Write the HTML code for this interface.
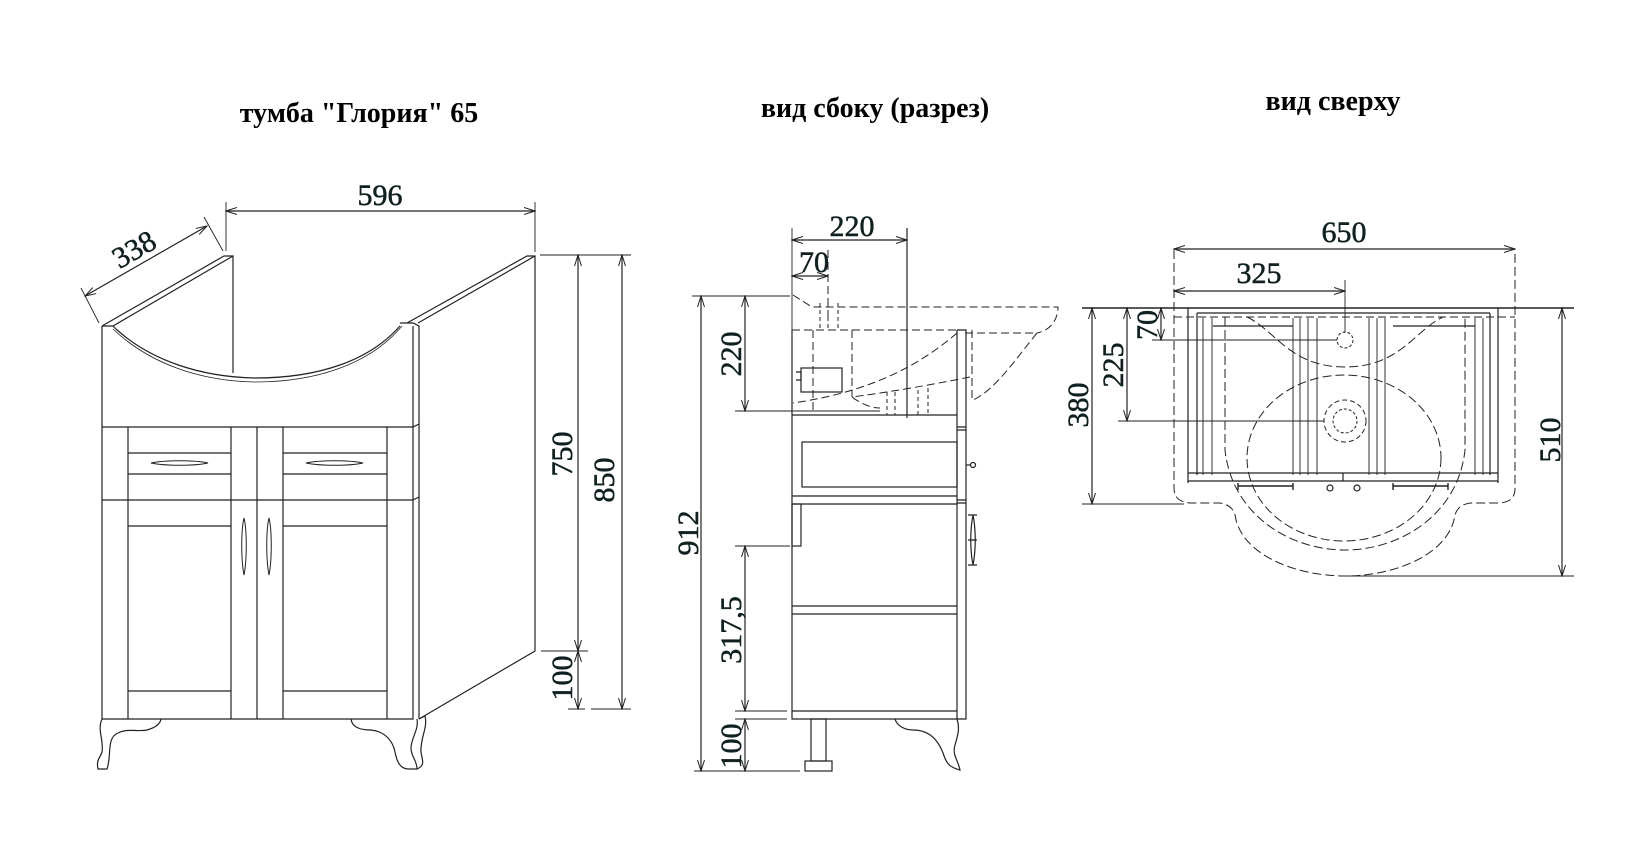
<!DOCTYPE html>
<html><head><meta charset="utf-8"><style>
html,body{margin:0;padding:0;background:#fff}
svg{display:block}
text{font-family:"Liberation Serif","DejaVu Serif",serif;fill:#102020}
.t{font-weight:bold;font-size:28px;fill:#000}
.d{font-size:30px;stroke:#102020;stroke-width:0.5}
</style></head><body>
<svg width="1645" height="868" viewBox="0 0 1645 868" xmlns="http://www.w3.org/2000/svg">
<defs>
<marker id="a" markerWidth="12" markerHeight="8" refX="11" refY="4" orient="auto-start-reverse" markerUnits="userSpaceOnUse">
<path d="M0,0.5 L11,4 L0,7.5" fill="none" stroke="#222" stroke-width="1"/>
</marker>
</defs>
<g stroke="#222" stroke-width="1.2" fill="none">
<path d="M102,326 L224,256 L233,256 L233,373"/>
<path d="M113,326 L233,256"/>
<path d="M407,323 L527,256 L535,256 L535,651 L419,719"/>
<path d="M418,323 L535,256"/>
<path d="M102,326 L102,719 L413,719 L413,326"/>
<path d="M102,326 L113,326 L116,329"/>
<path d="M400,323 L413,323 L419,326 L419,719"/>
<path d="M116,329 C150,360 200,377 255,378 C320,378 370,360 400,326"/>
<path d="M113,329 C150,364 200,381 255,382 C320,382 372,362 402,326" stroke-width="0.8"/>
<path d="M102,427 L413,427 M102,500 L413,500 M413,427 L419,424 M413,500 L419,497"/>
<path d="M128,427 V719 M231,427 V719 M257,427 V719 M283,427 V719 M387,427 V719"/>
<path d="M128,453 H231 M128,474 H231 M283,453 H387 M283,474 H387"/>
<path d="M128,526 H231 M283,526 H387 M128,691 H231 M283,691 H387"/>
<path d="M151,463 C165,460 195,460 208,463 C195,466 165,466 151,463 Z" stroke-width="1"/>
<path d="M306,463 C320,460 350,460 363,463 C350,466 320,466 306,463 Z" stroke-width="1"/>
<path d="M244,518 C247,530 247,560 244,575 C241,560 241,530 244,518 Z" stroke-width="1"/>
<path d="M269,518 C272,530 272,560 269,575 C266,560 266,530 269,518 Z" stroke-width="1"/>
<path d="M102,719 C97,730 104,740 102,752 C100,758 96,760 98,769 L107,769 C112,755 106,738 118,733 C128,728 138,732 147,730 C154,728 160,725 161,719"/>
<path d="M351,719 C352,727 360,730 370,730 C386,731 393,742 395,752 C397,762 400,769 409,769 L417,769 C417,760 411,757 411,748 C411,738 419,730 417,719"/>
<path d="M419,719 L425,716 C428,728 420,738 421,752 C422,760 426,765 417,769"/>
<path d="M226,211 L535,211" marker-start="url(#a)" marker-end="url(#a)"/>
<path d="M226,202 V251 M535,202 V252" stroke-width="0.9"/>
<path d="M85,296 L207,226" marker-start="url(#a)" marker-end="url(#a)"/>
<path d="M81,288 L99,323 M204,217 L223,251" stroke-width="0.9"/>
<path d="M540,255 H631 M541,651 H588 M591,709 H631 M568,709 H585" stroke-width="0.9"/>
<path d="M578,255 V651" marker-start="url(#a)" marker-end="url(#a)"/>
<path d="M578,651 V709" marker-start="url(#a)" marker-end="url(#a)"/>
<path d="M622,255 V709" marker-start="url(#a)" marker-end="url(#a)"/>

<path d="M792,330 V719 H957 V330 M957,719 H966 V330 H957"/>
<path d="M792,415 H957 M792,496 H957 M792,504 H957 M792,606 H957 M792,614 H957 M792,711 H957"/>
<rect x="802" y="442" width="155" height="45"/>
<path d="M957,427 H966 M957,430 H966 M957,500 H966 M957,503 H966"/>
<rect x="792" y="504" width="9" height="42"/>
<rect x="811" y="719" width="15" height="42"/>
<rect x="805" y="761" width="27" height="10"/>
<path d="M895,719 C897,726 905,730 913,730 C925,730 936,735 943,753 C946,762 948,767 960,770 C958,760 952,755 955,745 C958,735 960,728 957,719"/>
<circle cx="973" cy="465" r="2.5"/><path d="M966,465 H970"/>
<path d="M973,515 C976,530 976,550 973,565 C970,550 970,530 973,515 Z"/>
<path d="M968,515 H977 M968,565 H977 M968,540 H977"/>
<g stroke-dasharray="8,4" stroke-width="1">
<path d="M792,330 H965"/>
<path d="M793,295 L812,307 H1058 C1058,318 1052,330 1037,333"/>
<path d="M965,333 H1037 C1015,360 995,390 973,400"/>
<path d="M972,330 V400"/>
<path d="M813,330 V410 M852,330 V397"/>
<path d="M957,333 C920,365 870,392 793,403"/>
<path d="M970,377 C930,385 890,392 852,397 C860,403 870,408 880,408"/>
<path d="M820,303 V329 M828,303 V329 M838,303 V329" stroke-dasharray="4,3"/>
<path d="M828,250 V322"/>
<path d="M887,392 V415 M895,392 V415 M918,390 V415 M928,388 V415" stroke-dasharray="4,3"/>
</g>
<rect x="801" y="368" width="41" height="24"/>
<path d="M796,372 H801 V380 H796"/>
<path d="M907,228 V418" />
<path d="M692,296 H790 M694,771 H800 M735,411 H880 M735,546 H790 M735,711 H787 M735,719 H787" stroke-width="0.9"/>
<path d="M701,296 V771" marker-start="url(#a)" marker-end="url(#a)"/>
<path d="M745,296 V411" marker-start="url(#a)" marker-end="url(#a)"/>
<path d="M745,546 V711" marker-start="url(#a)" marker-end="url(#a)"/>
<path d="M745,719 V771" marker-start="url(#a)" marker-end="url(#a)"/>
<path d="M792,228 V330" stroke-width="0.9"/>
<path d="M792,240 H907" marker-start="url(#a)" marker-end="url(#a)"/>
<path d="M792,276 H828" marker-start="url(#a)" marker-end="url(#a)"/>

<path d="M1082,308 H1574" stroke-width="1.4"/>
<path d="M1188,308 V483 M1498,308 V483 M1197,313 H1490 M1197,313 V475 M1490,313 V475"/>
<path d="M1203,318 V475 M1212,318 V475 M1293,318 V475 M1300,318 V475 M1308,318 V475 M1317,318 V475 M1369,318 V475 M1377,318 V475 M1385,318 V475 M1475,318 V475 M1483,318 V475" stroke-width="0.9"/>
<path d="M1213,326 H1293 M1393,326 H1475"/>
<path d="M1188,473 H1498 M1188,481 H1498 M1343,473 V481"/>
<path d="M1174,317 H1515" stroke-dasharray="8,4" stroke-width="1"/>
<path d="M1238,486 H1293 M1238,483 V490 M1293,483 V490 M1393,486 H1448 M1393,483 V490 M1448,483 V490" stroke-width="1.4"/>
<circle cx="1330" cy="488" r="3"/><circle cx="1357" cy="488" r="3"/>
<circle cx="1345" cy="340" r="8" stroke-dasharray="3,2" stroke-width="1"/>
<circle cx="1345" cy="421" r="21" stroke-dasharray="5,3" stroke-width="1"/>
<circle cx="1345" cy="421" r="12" stroke-dasharray="3,2" stroke-width="1"/>
<g stroke-dasharray="9,4" stroke-width="1">
<ellipse cx="1344" cy="458" rx="97" ry="83"/>
<path d="M1225,317 V450 C1232,515 1290,550 1345,550 C1400,550 1458,515 1465,450 V317"/>
<path d="M1247,317 C1275,330 1290,367 1345,367 C1400,367 1415,330 1443,317"/>
<path d="M1174,250 V488 C1174,498 1180,502 1190,503 H1220 C1232,505 1235,512 1236,520 C1245,555 1295,576 1345,576 C1395,576 1445,555 1454,520 C1455,512 1458,505 1470,503 H1500 C1510,502 1515,498 1515,488 V250"/>
</g>
<path d="M1174,249 H1515" marker-start="url(#a)" marker-end="url(#a)"/>
<path d="M1174,291 H1345" marker-start="url(#a)" marker-end="url(#a)"/>
<path d="M1345,280 V333" stroke-width="0.9"/>
<path d="M1152,340 H1337 M1118,421 H1324 M1082,504 H1184 M1345,576 H1574" stroke-width="0.9"/>
<path d="M1161,308 V340" marker-start="url(#a)" marker-end="url(#a)"/>
<path d="M1127,308 V421" marker-start="url(#a)" marker-end="url(#a)"/>
<path d="M1092,308 V504" marker-start="url(#a)" marker-end="url(#a)"/>
<path d="M1562,308 V576" marker-start="url(#a)" marker-end="url(#a)"/>
</g>

<text class="t" x="359" y="122" text-anchor="middle">тумба "Глория" 65</text>
<text class="t" x="875" y="117" text-anchor="middle">вид сбоку (разрез)</text>
<text class="t" x="1333" y="110" text-anchor="middle">вид сверху</text>

<text class="d" x="380" y="205" text-anchor="middle">596</text>
<text class="d" transform="translate(139,258) rotate(-30)" text-anchor="middle">338</text>
<text class="d" transform="translate(572,454) rotate(-90)" text-anchor="middle">750</text>
<text class="d" transform="translate(614,480) rotate(-90)" text-anchor="middle">850</text>
<text class="d" transform="translate(572,678) rotate(-90)" text-anchor="middle">100</text>

<text class="d" x="852" y="236" text-anchor="middle">220</text>
<text class="d" x="814" y="272" text-anchor="middle">70</text>
<text class="d" transform="translate(698,533) rotate(-90)" text-anchor="middle">912</text>
<text class="d" transform="translate(741,354) rotate(-90)" text-anchor="middle">220</text>
<text class="d" transform="translate(741,630) rotate(-90)" text-anchor="middle">317,5</text>
<text class="d" transform="translate(741,746) rotate(-90)" text-anchor="middle">100</text>

<text class="d" x="1344" y="242" text-anchor="middle">650</text>
<text class="d" x="1259" y="283" text-anchor="middle">325</text>
<text class="d" transform="translate(1157,325) rotate(-90)" text-anchor="middle">70</text>
<text class="d" transform="translate(1123,365) rotate(-90)" text-anchor="middle">225</text>
<text class="d" transform="translate(1088,405) rotate(-90)" text-anchor="middle">380</text>
<text class="d" transform="translate(1560,440) rotate(-90)" text-anchor="middle">510</text>
</svg>
</body></html>
